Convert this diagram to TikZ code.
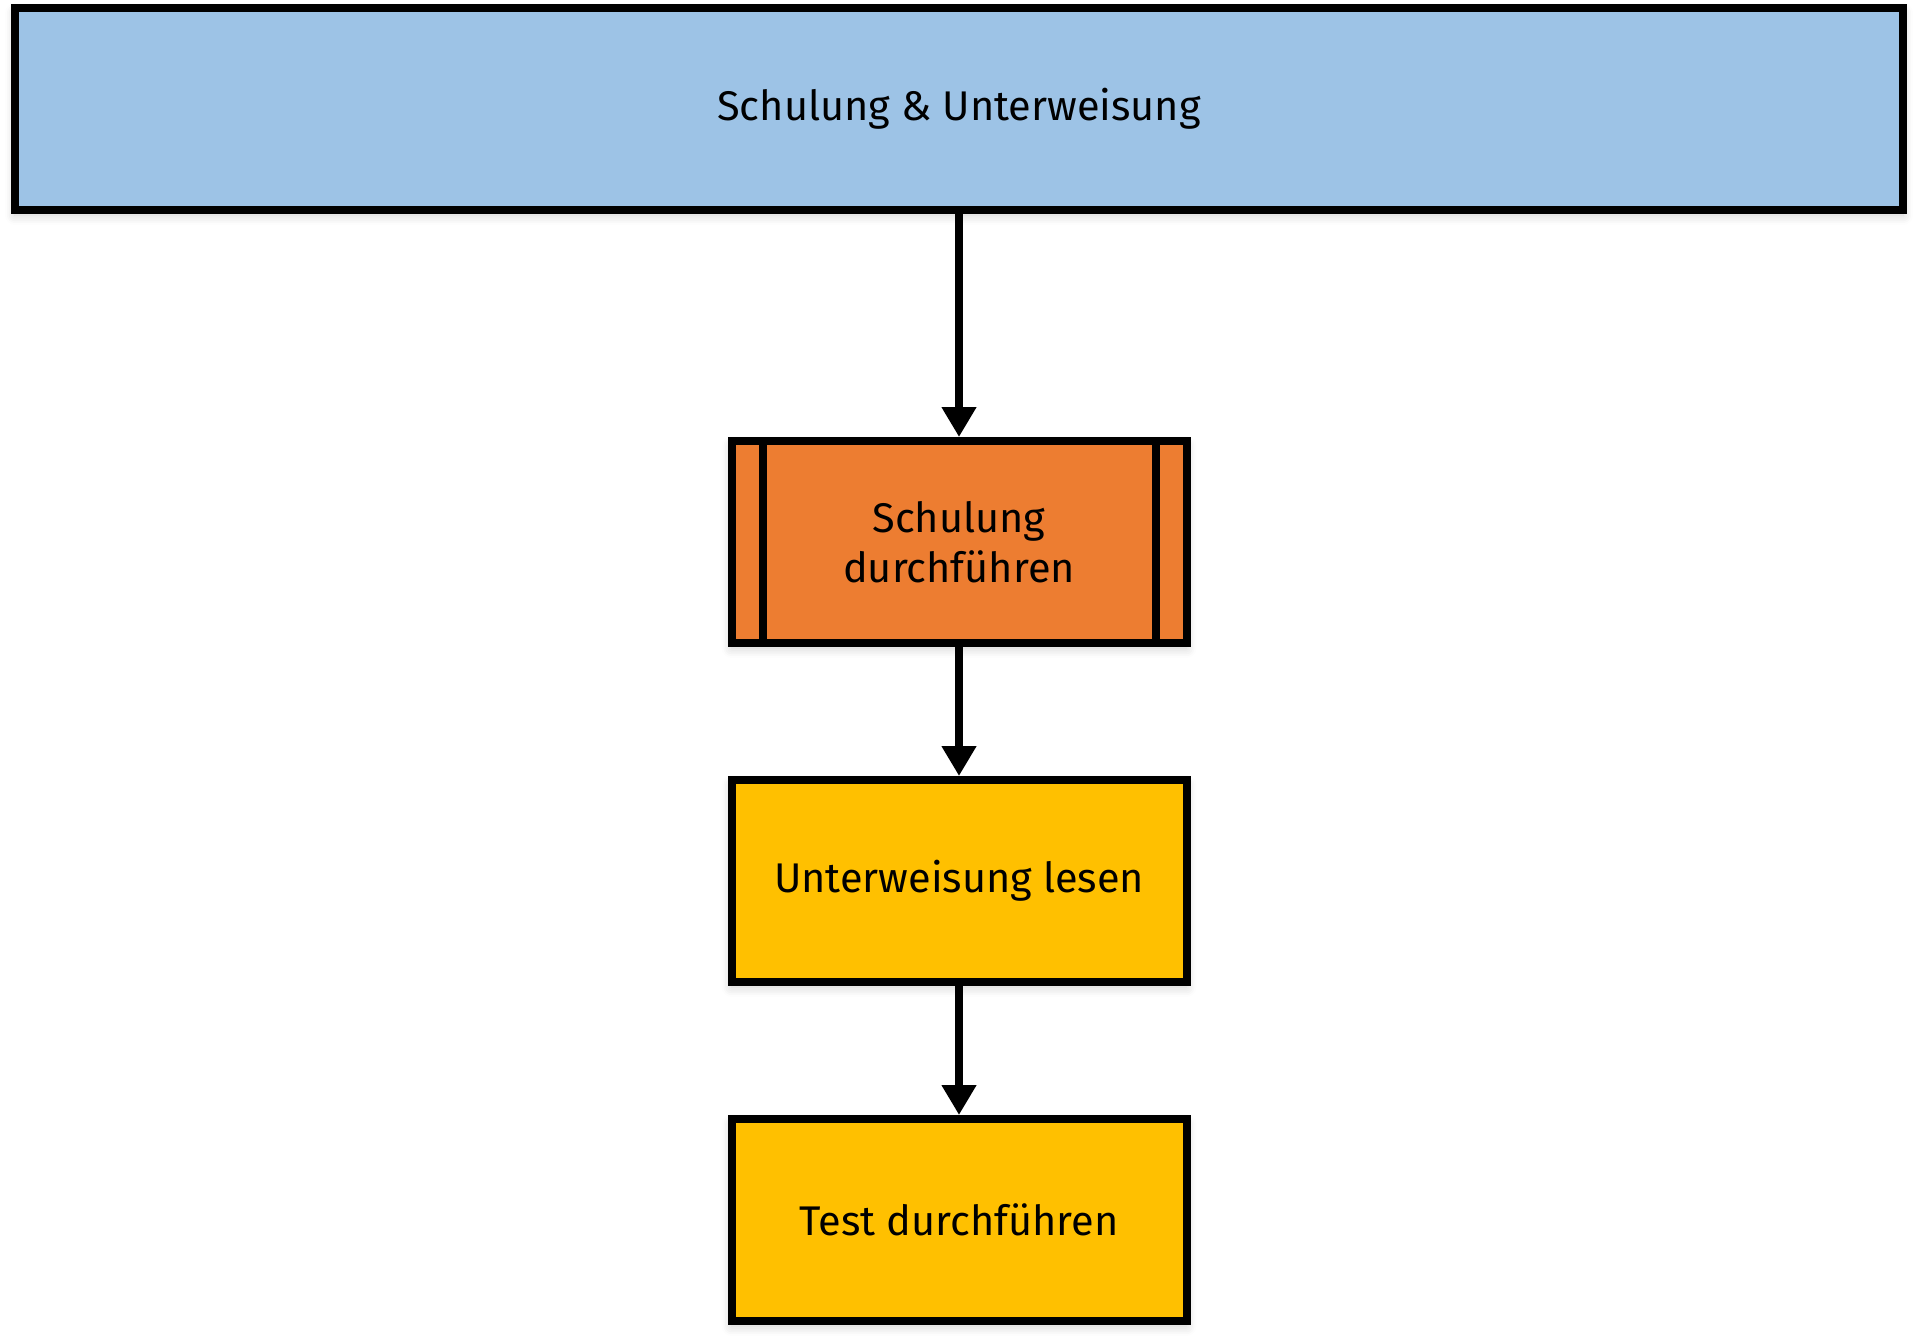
\documentclass[tikz,border=0pt]{standalone}
\usepackage{fontspec}
\setmainfont{Fira Sans}
\usepackage{tikz}
\usetikzlibrary{positioning,arrows.meta,shadows.blur}

\definecolor{kopfblau}{HTML}{9DC3E6}
\definecolor{prozessorange}{HTML}{ED7D31}
\definecolor{schrittgelb}{HTML}{FFC000}
\definecolor{schattenblau}{HTML}{9DB7DC}

\tikzset{
  kasten/.style={draw=black,line width=0.08cm,rectangle,align=center,
    font=\fontsize{11.8}{14.4}\selectfont,
    blur shadow={shadow xshift=0pt,shadow yshift=-0.05cm,shadow blur radius=0.1cm,
      shadow opacity=20,shadow blur steps=6,fill=schattenblau}},
  kopf/.style={kasten,fill=kopfblau,minimum width=18.88cm,minimum height=2.02cm},
  schritt/.style={kasten,fill=schrittgelb,minimum width=4.55cm,minimum height=2.02cm},
  unterprozess/.style={schritt,fill=prozessorange,
    path picture={
      \draw[line width=0.08cm]
        ([xshift=0.31cm]path picture bounding box.north west) --
        ([xshift=0.31cm]path picture bounding box.south west)
        ([xshift=-0.31cm]path picture bounding box.north east) --
        ([xshift=-0.31cm]path picture bounding box.south east);
    }},
  pfeil/.style={line width=0.08cm,-{Triangle[width=0.33cm,length=0.30cm]}}
}

\begin{document}
\begin{tikzpicture}
  \useasboundingbox (0,0) rectangle (19.2,-13.42);
  \node[kopf] (Schulung) at (9.59,-1.09) {Schulung \& Unterweisung};
  \node[unterprozess,below=2.23cm of Schulung] (Durchfuehren) {Schulung\\durchführen};
  \node[schritt,below=1.29cm of Durchfuehren] (Lesen) {Unterweisung lesen};
  \node[schritt,below=1.29cm of Lesen] (Test) {Test durchführen};
  \draw[pfeil] (Schulung) -- (Durchfuehren);
  \draw[pfeil] (Durchfuehren) -- (Lesen);
  \draw[pfeil] (Lesen) -- (Test);
\end{tikzpicture}
\end{document}
